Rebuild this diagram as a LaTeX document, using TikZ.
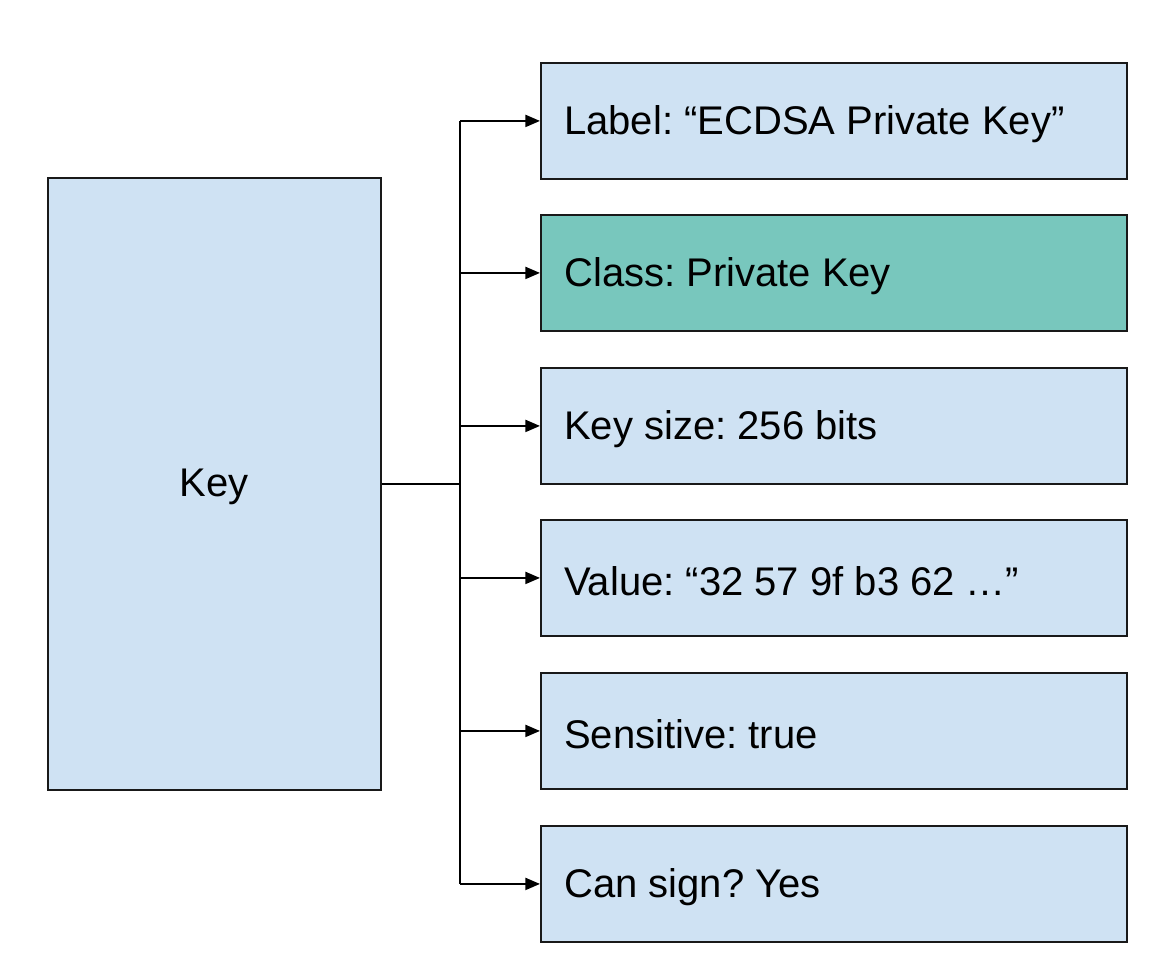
\documentclass[tikz,border=0pt]{standalone}
\usepackage{fontspec}
\setmainfont{Liberation Sans}
\frenchspacing
\usetikzlibrary{arrows.meta}
\definecolor{lightblue}{HTML}{CFE2F3}
\definecolor{teal1}{HTML}{78C7BD}
\begin{document}
\begin{tikzpicture}[x=0.75pt,y=-0.75pt,
  box/.style={draw=black!90,line width=1.4pt,fill=lightblue,minimum width=586*0.75pt,minimum height=116*0.75pt,anchor=north west,inner sep=0pt},
  lbl/.style={font=\fontsize{30}{36}\selectfont,anchor=west,inner sep=0pt},
  conn/.style={line width=1.6pt,-{Triangle[length=11pt,width=9pt]}}]
\useasboundingbox (0,0) rectangle (1174,974);
\node[draw=black!90,line width=1.4pt,fill=lightblue,minimum width=333*0.75pt,minimum height=612*0.75pt,anchor=north west,inner sep=0pt] (key) at (47,177) {};
\node[font=\fontsize{30}{36}\selectfont] (keyt) at ([yshift=-3*0.75pt]key.center) {Key};
\node[box] (b1) at (540,62) {};
\node[box,fill=teal1] (b2) at (540,214) {};
\node[box] (b3) at (540,367) {};
\node[box] (b4) at (540,519) {};
\node[box] (b5) at (540,672) {};
\node[box] (b6) at (540,825) {};
\node[lbl] (t1) at ([xshift=24*0.75pt,yshift=-3*0.75pt]b1.west) {Label: “ECDSA Private Key”};
\node[lbl] (t2) at ([xshift=24*0.75pt,yshift=-3*0.75pt]b2.west) {Class: Private Key};
\node[lbl] (t3) at ([xshift=24*0.75pt,yshift=-3*0.75pt]b3.west) {Key size: 256 bits};
\node[lbl] (t4) at ([xshift=24*0.75pt,yshift=-3*0.75pt]b4.west) {Value: “32 57 9f b3 62 …”};
\node[lbl] (t5) at ([xshift=24*0.75pt,yshift=-3*0.75pt]b5.west) {Sensitive: true};
\node[lbl] (t6) at ([xshift=24*0.75pt,yshift=-3*0.75pt]b6.west) {Can sign? Yes};
\coordinate (j) at (460,484);
\draw[line width=1.6pt] (key.east |- j) -- (j);
\draw[line width=1.6pt] (j |- b1.west) -- (j |- b6.west);
\foreach \b in {b1,b2,b3,b4,b5,b6}{\draw[conn] (j |- \b.west) -- (\b.west);}
\end{tikzpicture}
\end{document}
